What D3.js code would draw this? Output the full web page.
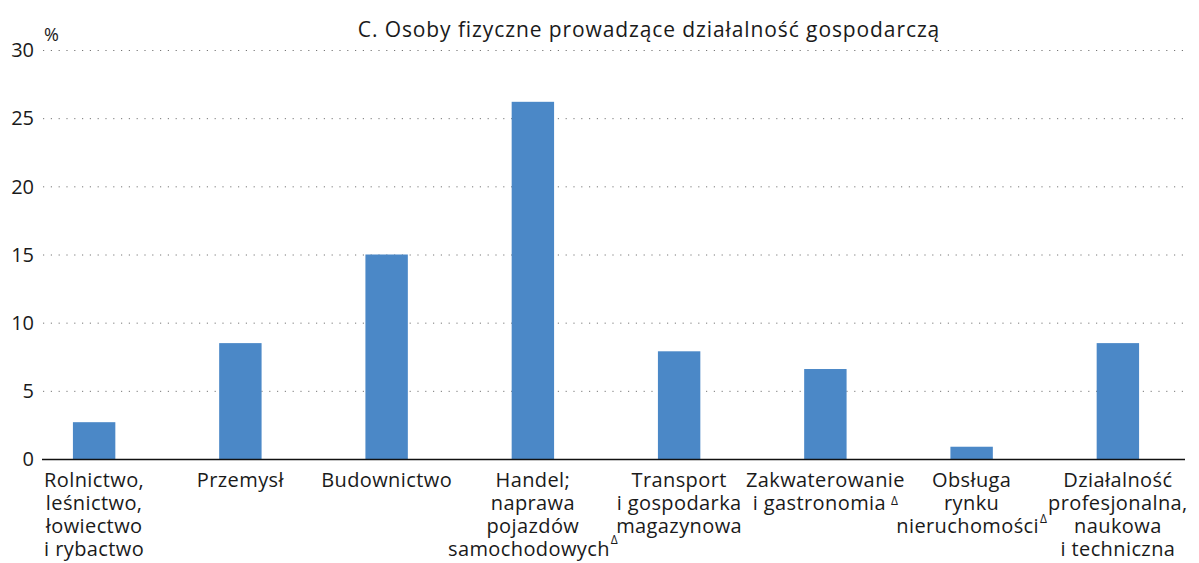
<!DOCTYPE html>
<html>
<head>
<meta charset="utf-8">
<script src="https://cdn.jsdelivr.net/npm/d3@7"></script>
<style>
  body { margin: 0; background: #fff; }
  text { font-family: "Open Sans", sans-serif; fill: #1a1a1a; }
</style>
</head>
<body>
<script>
// chart data
var categories = ["Rolnictwo", "Przemysł", "Budownictwo", "Handel", "Transport",
                  "Zakwaterowanie", "Obsługa", "Działalność"];
var values = [2.7, 8.5, 15.0, 26.2, 7.9, 6.6, 0.9, 8.5];
// label lines per category, "^" marks the Δ superscript
var labelLines = [
  ["Rolnictwo,", "leśnictwo,", "łowiectwo", "i rybactwo"],
  ["Przemysł"],
  ["Budownictwo"],
  ["Handel;", "naprawa", "pojazdów", "samochodowych^"],
  ["Transport", "i gospodarka", "magazynowa"],
  ["Zakwaterowanie", "i gastronomia^"],
  ["Obsługa", "rynku", "nieruchomości^"],
  ["Działalność", "profesjonalna,", "naukowa", "i techniczna"]
];
// how high the Δ sits above the baseline, and gap before it
var deltaRaise = {3: 12, 5: 5, 6: 10};
var deltaGap = {3: 1, 5: 5, 6: 1};
var yTicks = [0, 5, 10, 15, 20, 25, 30];
var title = "C. Osoby fizyczne prowadzące działalność gospodarczą";

var W = 1199, H = 563;
var svg = d3.select("body").append("svg")
    .attr("width", W)
    .attr("height", H);

// scales
var x = d3.scaleBand()
    .domain(categories)
    .range([21, 1191])
    .paddingInner(0.71)
    .paddingOuter(0.355);

var y = d3.scaleLinear()
    .domain([0, 30])
    .range([459, 50]);

var plotLeft = 43, plotRight = 1185;

// dotted gridlines
svg.append("g")
  .selectAll("line")
  .data(yTicks.filter(d => d > 0))
  .enter().append("line")
    .attr("x1", plotLeft)
    .attr("x2", plotRight)
    .attr("y1", d => y(d) + 0.5)
    .attr("y2", d => y(d) + 0.5)
    .attr("stroke", "#777")
    .attr("stroke-width", 1)
    .attr("stroke-dasharray", "1.2,6.6");

// y tick labels
svg.append("g")
  .selectAll("text")
  .data(yTicks)
  .enter().append("text")
    .attr("x", 34)
    .attr("y", d => y(d))
    .attr("dy", "0.36em")
    .attr("text-anchor", "end")
    .style("font-size", "20px")
    .text(d => d);

svg.append("text")
    .attr("x", 44)
    .attr("y", 41)
    .style("font-size", "18px")
    .text("%");

// bars
svg.append("g")
  .selectAll("rect")
  .data(values)
  .enter().append("rect")
    .attr("x", (d, i) => x(categories[i]))
    .attr("y", d => y(d))
    .attr("width", x.bandwidth())
    .attr("height", d => y(0) - y(d))
    .attr("fill", "#4b88c7");

// x axis line
svg.append("line")
    .attr("x1", plotLeft - 1)
    .attr("x2", plotRight)
    .attr("y1", y(0) + 0.5)
    .attr("y2", y(0) + 0.5)
    .attr("stroke", "#111")
    .attr("stroke-width", 1.3);

// category labels
var lab = svg.append("g")
  .selectAll("text")
  .data(labelLines)
  .enter().append("text")
    .attr("text-anchor", "middle")
    .style("font-size", "20px")
    .style("letter-spacing", "0.4px")
    .attr("transform", (d, i) => "translate(" + (x(categories[i]) + x.bandwidth() / 2) + ",0)");

lab.each(function(lines, i) {
  var t = d3.select(this);
  lines.forEach(function(line, j) {
    var hasDelta = line.endsWith("^");
    var txt = hasDelta ? line.slice(0, -1) : line;
    t.append("tspan")
        .attr("x", 0)
        .attr("y", 487 + j * 23)
        .text(txt);
    if (hasDelta) {
      t.append("tspan")
          .attr("dy", -deltaRaise[i])
          .attr("dx", deltaGap[i])
          .style("font-size", "12px")
          .style("letter-spacing", "0px")
          .text("Δ");
    }
  });
});

// title
svg.append("text")
    .attr("x", 649)
    .attr("y", 37)
    .attr("text-anchor", "middle")
    .style("font-size", "21px")
    .style("letter-spacing", "0.9px")
    .text(title);
</script>
</body>
</html>
